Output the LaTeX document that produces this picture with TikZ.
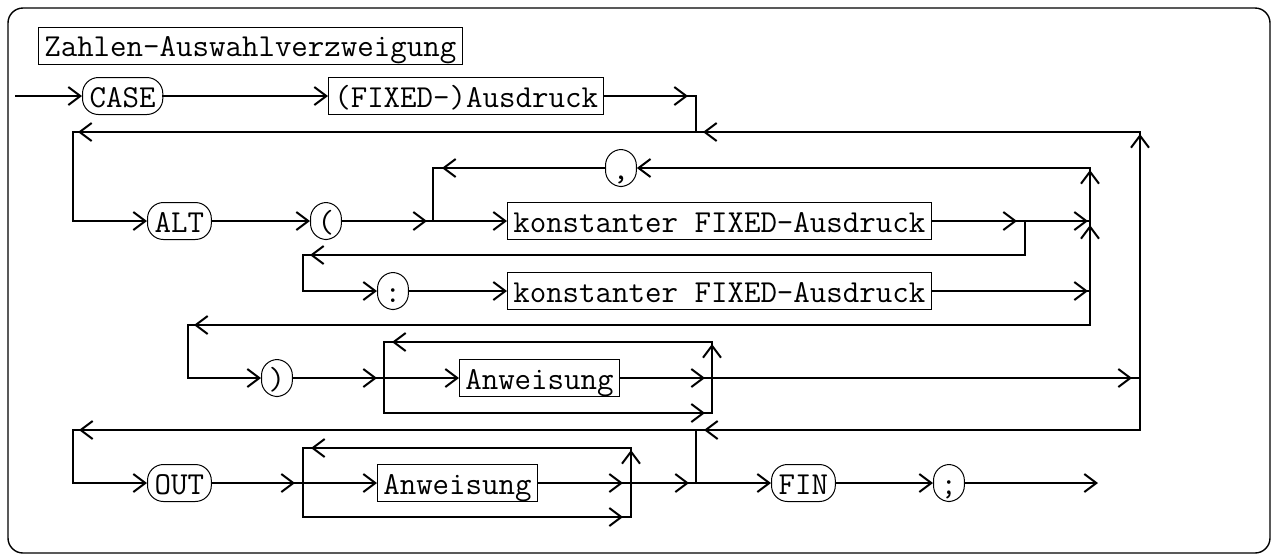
\documentclass[tikz,border=0pt]{standalone}
\usetikzlibrary{arrows.meta,decorations.markings}
\tikzset{
  conn/.style={line width=1pt, line cap=rect},
  ar/.style={-{Straight Barb[length=6pt,width=9pt]}},
  tipat/.style={postaction={decorate},decoration={markings,mark=at position #1 with {\arrow{Straight Barb[length=6pt,width=9pt]}}}},
  box/.style={draw, line width=0.5pt, rectangle, minimum height=18.5pt, inner xsep=2.9pt, inner ysep=1pt,
    text height=13.75pt, text depth=2.75pt, font=\fontsize{16}{18}\selectfont\ttfamily},
  rbox/.style={box, rounded corners=8pt, inner xsep=3.6pt},
  frame/.style={draw, line width=0.7pt, rounded corners=7.5pt}
}
\begin{document}
\begin{tikzpicture}[x=0.5pt,y=-0.5pt]
\useasboundingbox (0,0) rectangle (1271,554);
\draw[frame] (8,8) rectangle (1270,553);

% nodes
\node[box, anchor=west] (title) at (38,45.5) {Zahlen-Auswahlverzweigung};
\node[rbox, anchor=west] (case) at (82,96) {CASE};
\node[box, anchor=west] (fix) at (328,96) {(FIXED-)Ausdruck};
\node[rbox, anchor=west] (alt) at (147,221) {ALT};
\node[rbox, anchor=west] (lp) at (310,221) {(};
\node[rbox, anchor=west] (comma) at (605,168) {,};
\node[box, anchor=west] (k1) at (507,221) {konstanter FIXED-Ausdruck};
\node[rbox, anchor=west] (colon) at (377,291) {:};
\node[box, anchor=west] (k2) at (507,291) {konstanter FIXED-Ausdruck};
\node[rbox, anchor=west] (rp) at (261,378) {)};
\node[box, anchor=west] (anw1) at (459,378) {Anweisung};
\node[rbox, anchor=west] (out) at (147,483) {OUT};
\node[box, anchor=west] (anw2) at (377,483) {Anweisung};
\node[rbox, anchor=west] (fin) at (771,483) {FIN};
\node[rbox, anchor=west] (semi) at (933,483) {;};

% coordinates
\coordinate (start) at (16,96);
\coordinate (c1a) at (696,96);
\coordinate (c1b) at (696,132);
\coordinate (bt) at (1140,132);
\coordinate (b3) at (1140,378);
\coordinate (bb) at (1140,430);
\coordinate (l1) at (73,132);
\coordinate (l1b) at (73,221);
\coordinate (j2) at (433,221);
\coordinate (j2t) at (433,168);
\coordinate (j3) at (1090,221);
\coordinate (j3t) at (1090,168);
\coordinate (j4) at (1025,221);
\coordinate (j4b) at (1025,255);
\coordinate (l2) at (303,255);
\coordinate (l2b) at (303,291);
\coordinate (j5) at (1090,291);
\coordinate (j5b) at (1090,325);
\coordinate (l3) at (188,325);
\coordinate (l3b) at (188,378);
\coordinate (j6) at (384,378);
\coordinate (j6t) at (384,342);
\coordinate (j6b) at (384,413);
\coordinate (j7) at (712,378);
\coordinate (j7t) at (712,342);
\coordinate (j7b) at (712,413);
\coordinate (j8) at (696,430);
\coordinate (l4) at (73,430);
\coordinate (l4b) at (73,483);
\coordinate (j9) at (303,483);
\coordinate (j9t) at (303,448);
\coordinate (j9b) at (303,517);
\coordinate (j10) at (631,483);
\coordinate (j10t) at (631,448);
\coordinate (j10b) at (631,517);
\coordinate (j11) at (696,483);
\coordinate (fine) at (1098,483);

% row 1
\draw[conn,ar] (start) -- (case.west);
\draw[conn,ar] (case) -- (fix);
\draw[conn,tipat=-4pt] (fix.east) -- (c1a);
\draw[conn] (c1a) -- (c1b);
% bus and first return
\draw[conn,tipat=-1pt] (b3) -- (bt);
\draw[conn,tipat=-3.5pt] (bt) -- (c1b);
\draw[conn,tipat=-2.5pt] (c1b) -- (l1);
\draw[conn] (l1) -- (l1b);
\draw[conn,ar] (l1b) -- (alt);
\draw[conn,ar] (alt) -- (lp);
\draw[conn,tipat=-3pt] (lp) -- (j2);
\draw[conn,ar] (j2) -- (k1);
% comma loop
\draw[conn,tipat=-1pt] (j3) -- (j3t);
\draw[conn,ar] (j3t) -- (comma);
\draw[conn,tipat=-4.5pt] (comma) -- (j2t);
\draw[conn] (j2t) -- (j2);
% k1 exit
\draw[conn,tipat=-4pt] (k1) -- (j4);
\draw[conn,tipat=-1pt] (j4) -- (j3);
% colon branch
\draw[conn] (j4) -- (j4b);
\draw[conn,tipat=-3.5pt] (j4b) -- (l2);
\draw[conn] (l2) -- (l2b);
\draw[conn,ar] (l2b) -- (colon);
\draw[conn,ar] (colon) -- (k2);
\draw[conn,tipat=-1pt] (k2) -- (j5);
\draw[conn,tipat=-2pt] (j5) -- (j3);
% return to )
\draw[conn] (j5) -- (j5b);
\draw[conn,tipat=-3pt] (j5b) -- (l3);
\draw[conn] (l3) -- (l3b);
\draw[conn,ar] (l3b) -- (rp);
% Anweisung loop 1
\draw[conn,tipat=-3.5pt] (rp) -- (j6);
\draw[conn,ar] (j6) -- (anw1);
\draw[conn,tipat=-3.5pt] (anw1) -- (j7);
\draw[conn,tipat=-1pt] (j7) -- (j7t);
\draw[conn,tipat=-4pt] (j7t) -- (j6t);
\draw[conn] (j6t) -- (j6b);
\draw[conn,tipat=-3.5pt] (j6b) -- (j7b);
\draw[conn] (j7b) -- (j7);
\draw[conn,tipat=-4pt] (j7) -- (b3);
\draw[conn] (b3) -- (bb);
% return to OUT
\draw[conn,tipat=-4pt] (bb) -- (j8);
\draw[conn,tipat=-3pt] (j8) -- (l4);
\draw[conn] (l4) -- (l4b);
\draw[conn,ar] (l4b) -- (out);
% Anweisung loop 2
\draw[conn,tipat=-4pt] (out) -- (j9);
\draw[conn,ar] (j9) -- (anw2);
\draw[conn,tipat=-4pt] (anw2) -- (j10);
\draw[conn,tipat=-1pt] (j10) -- (j10t);
\draw[conn,tipat=-4pt] (j10t) -- (j9t);
\draw[conn] (j9t) -- (j9b);
\draw[conn,tipat=-4pt] (j9b) -- (j10b);
\draw[conn] (j10b) -- (j10);
\draw[conn,tipat=-3.5pt] (j10) -- (j11);
\draw[conn] (j8) -- (j11);
\draw[conn,ar] (j11) -- (fin);
\draw[conn,ar] (fin) -- (semi);
\draw[conn,ar] (semi) -- (fine);
\end{tikzpicture}
\end{document}
